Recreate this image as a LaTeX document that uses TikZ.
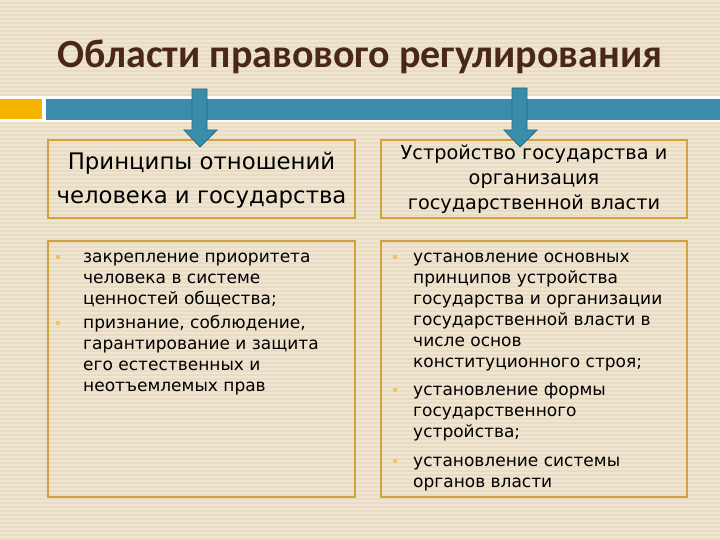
\documentclass[tikz,border=0pt]{standalone}
\usepackage{fontspec}
\setmainfont{DejaVu Sans}
\newfontfamily\titlefont{Carlito}
\definecolor{bgc}{HTML}{E8DCC3}
\definecolor{stripec}{HTML}{EFE5D2}
\definecolor{titlec}{HTML}{4A2818}
\definecolor{barblue}{HTML}{3A8CAA}
\definecolor{barorange}{HTML}{F4B400}
\definecolor{arrowfill}{HTML}{3A8DAA}
\definecolor{arrowedge}{HTML}{2A6A82}
\definecolor{boxedge}{HTML}{D0A23C}
\definecolor{bulletc}{HTML}{F2C460}
\tikzset{
  panel/.style={draw=boxedge, line width=2pt},
  headtext/.style={align=center, inner sep=0pt, text=black},
  bodytext/.style={align=left, inner sep=0pt, anchor=north west, text=black,
    font=\fontsize{17}{21}\selectfont},
  bulletdot/.style={fill=bulletc, minimum size=4pt, inner sep=0pt},
  downarrow/.style={fill=arrowfill, draw=arrowedge, line width=0.8pt}
}
\begin{document}
\begin{tikzpicture}[x=1pt,y=-1pt]
\useasboundingbox (0,0) rectangle (720,540);
\fill[bgc] (0,0) rectangle (720,540);
\foreach \i in {0,...,135} {
  \fill[stripec] (0,\i*4) rectangle (720,\i*4+1.6);
}
% title
\node[font=\titlefont\bfseries\fontsize{40}{44}\selectfont, text=titlec, inner sep=0pt] (title) at (360,57) {Области правового регулирования};
% bar
\fill[white] (0,96) rectangle (720,122);
\fill[barorange] (0,99) rectangle (42,119);
\fill[barblue] (46,99) rectangle (720,120);
% header boxes
\draw[panel] (48,140) rectangle (355,218);
\node[headtext, font=\fontsize{22.8}{34}\selectfont] (hl) at (201.5,180) {Принципы отношений\\человека и государства};
\draw[panel] (381,140) rectangle (687,218);
\node[headtext, font=\fontsize{19.3}{25}\selectfont] (hr) at (534,179) {Устройство государства и\\организация\\государственной власти};
% body boxes
\draw[panel] (48,241) rectangle (355,497);
\draw[panel] (381,241) rectangle (687,497);
% left body
\node[bulletdot] (bl1) at (58,257) {};
\node[bodytext] (tl1) at (83,247.3) {\strut закрепление приоритета\\человека в системе\\ценностей общества;};
\node[bulletdot] (bl2) at (58,323) {};
\node[bodytext] (tl2) at (83,313.3) {\strut признание, соблюдение,\\гарантирование и защита\\его естественных и\\неотъемлемых прав};
% right body
\node[bulletdot] (br1) at (395,257) {};
\node[bodytext] (tr1) at (413,247.3) {\strut установление основных\\принципов устройства\\государства и организации\\государственной власти в\\числе основ\\конституционного строя;};
\node[bulletdot] (br2) at (395,390) {};
\node[bodytext] (tr2) at (413,380.3) {\strut установление формы\\государственного\\устройства;};
\node[bulletdot] (br3) at (395,461) {};
\node[bodytext] (tr3) at (413,451.3) {\strut установление системы\\органов власти};
% arrows
\draw[downarrow] (192,89) -- (207,89) -- (207,130) -- (217,130) -- (200,147) -- (184,130) -- (192,130) -- cycle;
\draw[downarrow] (512,88) -- (527,88) -- (527,130) -- (537,130) -- (520,147) -- (504,130) -- (512,130) -- cycle;
\end{tikzpicture}
\end{document}
